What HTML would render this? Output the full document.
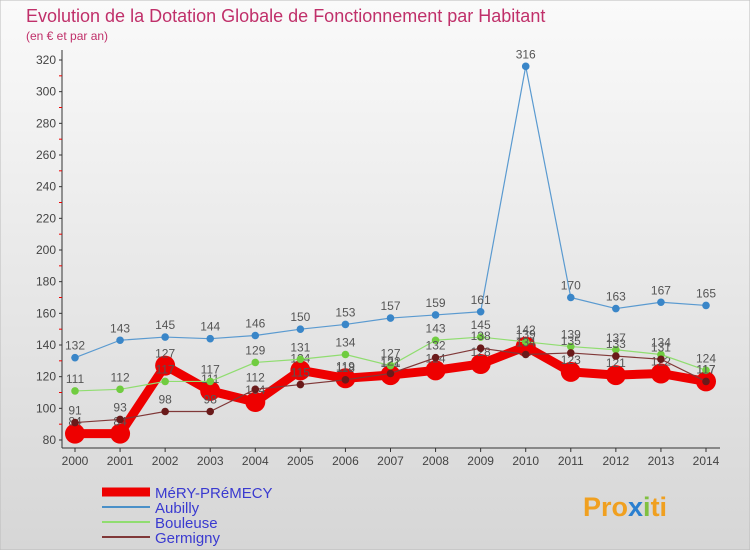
<!DOCTYPE html>
<html><head><meta charset="utf-8"><style>
body{margin:0;width:750px;height:550px;overflow:hidden;font-family:"Liberation Sans",sans-serif;}
</style></head><body>
<svg width="750" height="550" xmlns="http://www.w3.org/2000/svg">
<defs><linearGradient id="bg" x1="0" y1="0" x2="0" y2="1"><stop offset="0" stop-color="#fafafa"/><stop offset="1" stop-color="#d6d6d6"/></linearGradient></defs>
<rect width="750" height="550" fill="url(#bg)" stroke="#bbb"/>
<text x="26" y="22" font-size="18" fill="#c0306a">Evolution de la Dotation Globale de Fonctionnement par Habitant</text>
<text x="26" y="40" font-size="12" fill="#c0306a">(en € et par an)</text>
<g id="axes"></g><g id="series"></g><g id="legend"></g>
<text x="583" y="516" font-size="27" font-weight="bold" fill="#f0a020">Pro<tspan fill="#2a7fd0">x</tspan><tspan fill="#80c040">i</tspan>ti</text>
</svg>
<script>
const years=[2000,2001,2002,2003,2004,2005,2006,2007,2008,2009,2010,2011,2012,2013,2014];
const yTicks=[80,100,120,140,160,180,200,220,240,260,280,300,320];
const aubilly=[132,143,145,144,146,150,153,157,159,161,316,170,163,167,165];
const bouleuse=[111,112,117,117,129,131,134,127,143,145,142,139,137,134,124];
const germigny=[91,93,98,98,112,115,118,122,132,138,134,135,133,131,117];
const mery=[84,84,127,111,104,124,119,121,124,128,139,123,121,122,117];
const NS="http://www.w3.org/2000/svg";
const X=i=>75+i*(706-75)/14;
const Y=v=>440-(v-80)*(380/240);
function mk(tag,attrs,parent){const e=document.createElementNS(NS,tag);for(const k in attrs)e.setAttribute(k,attrs[k]);parent.appendChild(e);return e;}
const ax=document.getElementById('axes');
let a=mk('line',{x1:62,y1:50,x2:62,y2:448,stroke:'#333'},ax);


a=mk('line',{x1:62,y1:448,x2:720,y2:448,stroke:'#333'},ax);


yTicks.forEach(v=>{
  const t=mk('text',{x:56,y:Y(v)+4,'font-size':12,'text-anchor':'end',fill:'#444'},ax);t.textContent=v;
  
  
  mk('line',{x1:59,y1:Y(v),x2:62,y2:Y(v),stroke:'#333'},ax);
  if(v<320)mk('line',{x1:59,y1:Y(v+10),x2:62,y2:Y(v+10),stroke:'#e00'},ax);
});
years.forEach((y,i)=>{
  const t=mk('text',{x:X(i),y:465,'font-size':12,'text-anchor':'middle',fill:'#444'},ax);t.textContent=y;
  
  
  mk('line',{x1:X(i),y1:448,x2:X(i),y2:452,stroke:'#333'},ax);
});
const sg=document.getElementById('series');
function series(data,color,w,r,name,dot){
  const g=mk('g',{},sg);
  
  
  const p=mk('polyline',{points:data.map((v,i)=>X(i)+','+Y(v)).join(' '),fill:'none',stroke:color,'stroke-width':w,'stroke-linejoin':'round'},g);
  
  
  data.forEach((v,i)=>{
    const c=mk('circle',{cx:X(i),cy:Y(v),r:r,fill:dot},g);
    
    
    const t=mk('text',{x:X(i),y:Y(v)-8,'font-size':12,'text-anchor':'middle',fill:'#555'},g);t.textContent=v;
    
    
  });
}
series(mery,'#ee0000',9,10,'mery-premecy','#ee0000');
series(aubilly,'#5a9ad0',1.2,3.8,'aubilly','#3a86c8');
series(bouleuse,'#90dd70',1.2,3.8,'bouleuse','#70cc40');
series(germigny,'#803838',1.2,3.8,'germigny','#6a1a1a');
const lg=document.getElementById('legend');
const items=[['MéRY-PRéMECY','#ee0000',9],['Aubilly','#4a90c8',2],['Bouleuse','#90dd70',2],['Germigny','#803838',2]];
items.forEach((it,i)=>{
  const y=492+i*15;
  const g=mk('g',{},lg);
  
  
  mk('line',{x1:102,y1:y,x2:150,y2:y,stroke:it[1],'stroke-width':it[2]},g);
  const t=mk('text',{x:155,y:y+6,'font-size':15,fill:'#3a3ad0'},g);t.textContent=it[0];
});
</script>
</body></html>
